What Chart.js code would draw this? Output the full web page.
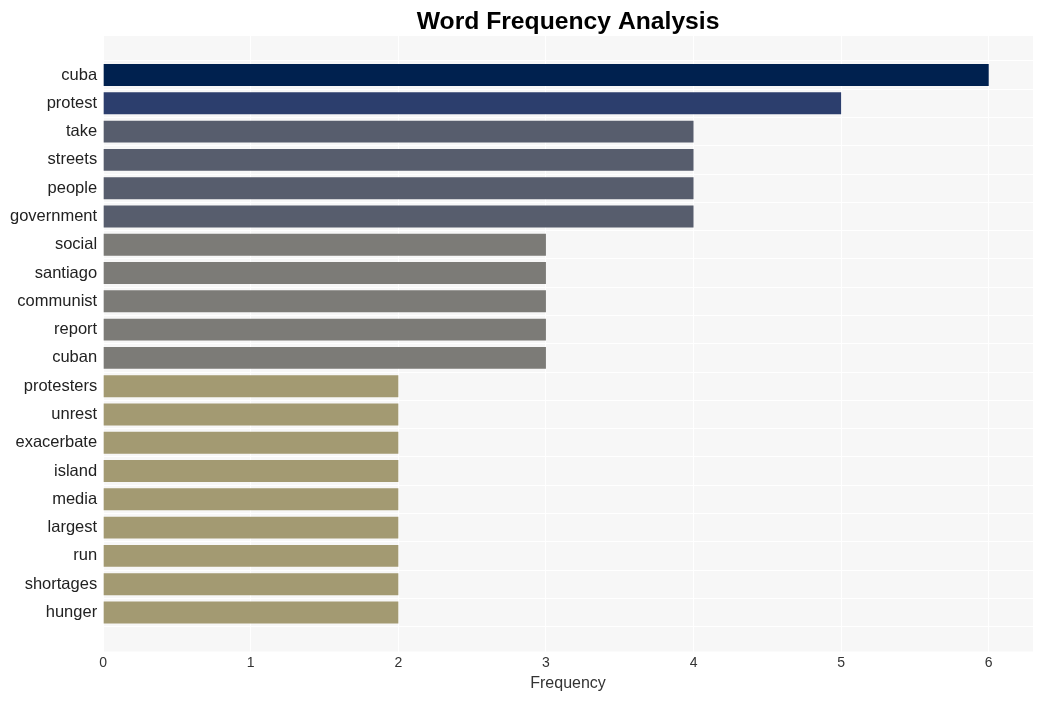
<!DOCTYPE html>
<html>
<head>
<meta charset="utf-8">
<script src="https://cdn.jsdelivr.net/npm/chart.js@4/dist/chart.umd.min.js"></script>
<style>
  html, body { margin: 0; padding: 0; background: #ffffff; }
  #wrap { width: 1042px; height: 701px; position: relative; }
</style>
</head>
<body>
<div id="wrap"><canvas id="c" width="1042" height="701"></canvas></div>
<script>
const categories = ["cuba","protest","take","streets","people","government","social","santiago","communist","report","cuban","protesters","unrest","exacerbate","island","media","largest","run","shortages","hunger"];
const frequencies = [6,5,4,4,4,4,3,3,3,3,3,2,2,2,2,2,2,2,2,2];
const xTicks = [0,1,2,3,4,5,6];
const colorByValue = {6: "#00214f", 5: "#2c3e6d", 4: "#575d6d", 3: "#7c7b77", 2: "#a39a72"};

const bgPlugin = {
  id: "plotBg",
  beforeDraw(chart) {
    const a = chart.chartArea, ctx = chart.ctx;
    ctx.save();
    ctx.fillStyle = "#f7f7f7";
    ctx.fillRect(a.left, a.top, a.right - a.left, a.bottom - a.top);
    ctx.restore();
  }
};

const FONT = "'Liberation Sans', Arial, Helvetica, sans-serif";

new Chart(document.getElementById("c"), {
  type: "bar",
  data: {
    datasets: [{
      data: frequencies.map((v, i) => ({ x: v, y: i })),
      backgroundColor: frequencies.map(v => colorByValue[v]),
      borderWidth: 0,
      barPercentage: 0.97,
      categoryPercentage: 0.8
    }]
  },
  options: {
    indexAxis: "y",
    responsive: false,
    animation: false,
    devicePixelRatio: 1,
    layout: { padding: { left: 4, right: 9, top: 0, bottom: 9.5 } },
    plugins: {
      legend: { display: false },
      tooltip: { enabled: false },
      title: {
        display: true,
        text: "Word Frequency Analysis",
        fullSize: false,
        color: "#000000",
        font: { family: FONT, size: 24.7, weight: "bold", lineHeight: 1.0 },
        padding: { top: 9.6, bottom: 1.7 }
      }
    },
    scales: {
      x: {
        type: "linear",
        min: 0,
        max: 6.3,
        bounds: "data",
        offset: false,
        border: { display: false },
        grid: { color: "#ffffff", lineWidth: 1, drawTicks: false },
        afterBuildTicks: (s) => { s.ticks = xTicks.map(v => ({ value: v })); },
        ticks: { color: "#333333", font: { family: FONT, size: 14, lineHeight: 1.0 }, padding: 5 },
        title: { display: true, text: "Frequency", color: "#333333", font: { family: FONT, size: 16, lineHeight: 1.0 }, padding: { top: 0, bottom: 0 } }
      },
      y: {
        type: "linear",
        reverse: true,
        bounds: "data",
        offset: false,
        min: -1.38,
        max: categories.length - 1 + 1.38,
        border: { display: false },
        grid: { color: "#ffffff", lineWidth: 1, drawTicks: false },
        afterBuildTicks: (s) => { s.ticks = categories.map((_, i) => ({ value: i })); },
        ticks: {
          color: "#222222",
          font: { family: FONT, size: 16.5 },
          padding: 6,
          callback: (v) => categories[v] !== undefined ? categories[v] : ""
        }
      }
    }
  },
  plugins: [bgPlugin]
});
</script>
</body>
</html>
